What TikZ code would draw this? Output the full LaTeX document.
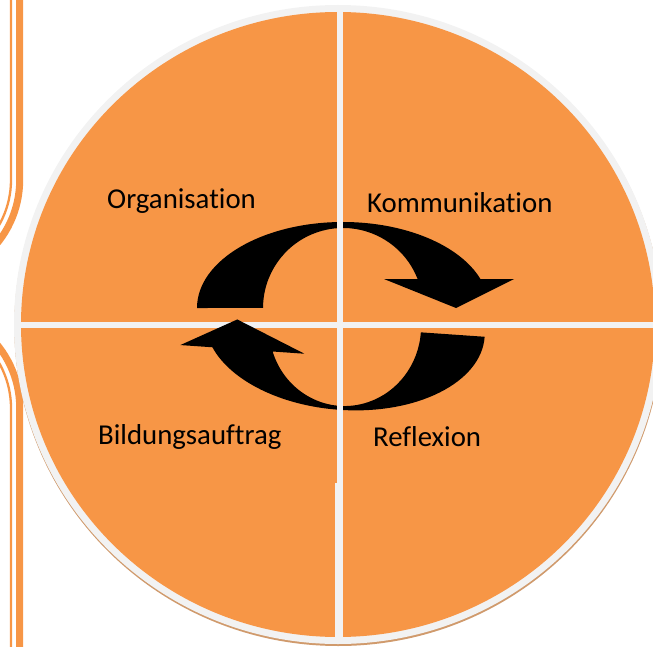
\documentclass[tikz,border=0pt]{standalone}
\usepackage{fontspec}
\setmainfont{Carlito}[Ligatures={NoCommon}]
\definecolor{orng}{HTML}{F79646}
\definecolor{ringc}{HTML}{F2F2F2}
\definecolor{shad}{HTML}{D09A6C}
\begin{document}
\begin{tikzpicture}[x=1pt,y=1pt,
  lbl/.style={anchor=base west, inner sep=0pt, font=\fontsize{28.8}{34}\selectfont, text=black},
  border/.style={draw=orng}]
\useasboundingbox (0,0) rectangle (653,-647);
\clip (0,0) rectangle (653,-647);
\begin{scope}[yscale=-1]
  % left page border lines
  \draw[border, line width=7] (19.7,-5) -- (19.7,180) arc[start angle=0, end angle=50, radius=100];
  \draw[border, line width=2.3] (11,-5) -- (11,180) arc[start angle=0, end angle=50, radius=91.3];
  \draw[border, line width=7] (-16.0,331.4) arc[start angle=-50, end angle=0, radius=100] -- (19.7,660);
  \draw[border, line width=2.3] (-21.6,338.1) arc[start angle=-50, end angle=0, radius=91.3] -- (11,660);
  % circle
  \fill[shad] (338.3,326.5) ellipse [x radius=324, y radius=319.5];
  \fill[ringc] (338,324.5) ellipse [x radius=324, y radius=319.5];
  \fill[orng] (338,324.5) ellipse [x radius=317, y radius=312.5];
  % horizontal divider
  \fill[ringc] (16,321.5) rectangle (660,328);
  % top arrow
  \begin{scope}[shift={(343,308)}]
    \fill[black] (-146,0) arc[start angle=180, end angle=340.3, x radius=146, y radius=86]
      -- (171,-29) -- (113,0) -- (41,-29) -- (74.6,-29)
      arc[start angle=338.75, end angle=180, x radius=80, y radius=80] -- cycle;
  \end{scope}
  % bottom arrow
  \begin{scope}[shift={(345,327)}, rotate=4]
    \fill[black] (140,0) arc[start angle=0, end angle=159.2, x radius=140, y radius=83]
      -- (-163,29.5) -- (-108,0) -- (-38.6,29.5) -- (-70.5,29.5)
      arc[start angle=158.1, end angle=0, x radius=76, y radius=79] -- cycle;
  \end{scope}
  % vertical divider
  \fill[ringc] (336.5,6) rectangle (343.3,643);
  \fill[ringc] (335.3,483) rectangle (336.5,642);
  % labels
  \node[lbl] (org) at (107,208) {Organisation};
  \node[lbl] (kom) at (367,212) {Kommunikation};
  \node[lbl] (bil) at (98,444) {Bildungsauftrag};
  \node[lbl] (ref) at (373,446) {Reflexion};
\end{scope}
\end{tikzpicture}
\end{document}
